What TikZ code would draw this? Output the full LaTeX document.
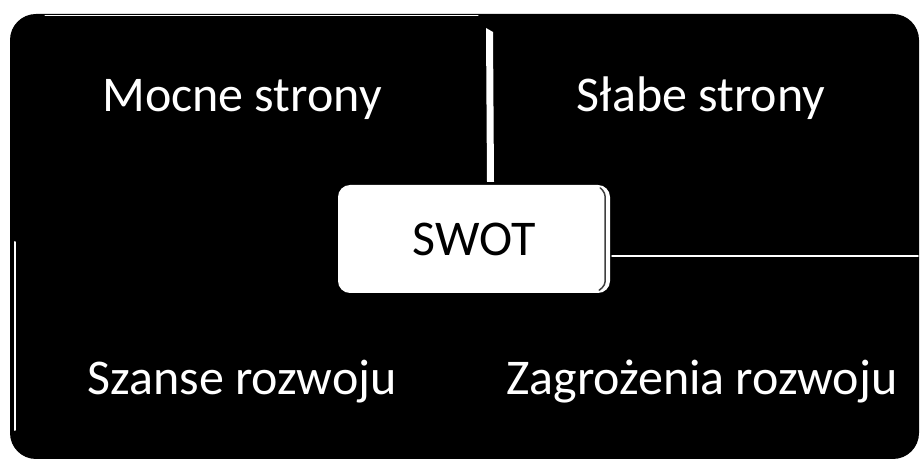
\documentclass[tikz,border=0pt]{standalone}
\usepackage{fontspec}
\setmainfont{Carlito}
\usepackage{tikz}

\tikzset{
  quadtext/.style={text=white, font=\fontsize{50}{60}\selectfont, inner sep=0pt, anchor=base},
  swotbox/.style={fill=white, rounded corners=12pt, minimum width=272pt, minimum height=108pt,
    inner sep=0pt, font=\fontsize{50}{60}\selectfont},
}

\begin{document}
\begin{tikzpicture}[x=1pt, y=1pt, line cap=round, line join=round]
    \useasboundingbox (0,0) rectangle (922,461);

    % Background
    \fill[black, rounded corners=26pt] (10,2) rectangle (919,447);

    % Separators
    \draw[white, line width=1pt] (45,445) -- (478,445);
    \fill[white] (486,433) -- (493,429) -- (494,279) -- (487,279) -- cycle;
    \draw[white, line width=1.5pt] (612,205) -- (918,205);
    \draw[white, line width=2pt] (15,219) -- (15,31);

    % Nodes
    \node[quadtext] (mocne) at (242,349) {Mocne strony};
    \node[quadtext] (slabe) at (701,349) {Słabe strony};
    \node[quadtext] (szanse) at (242,66) {Szanse rozwoju};
    \node[quadtext] (zagrozenia) at (702,66) {Zagrożenia rozwoju};
    \node[swotbox] (swot) at (474,222) {SWOT};

    % Shaded edge of the box
    \draw[black!75, line width=1.5pt, rounded corners=4pt]
      ([xshift=-10pt,yshift=-3pt]swot.north east) -- ([xshift=-5pt,yshift=-8pt]swot.north east)
      -- ([xshift=-5pt,yshift=8pt]swot.south east) -- ([xshift=-11pt,yshift=3pt]swot.south east);
\end{tikzpicture}
\end{document}
